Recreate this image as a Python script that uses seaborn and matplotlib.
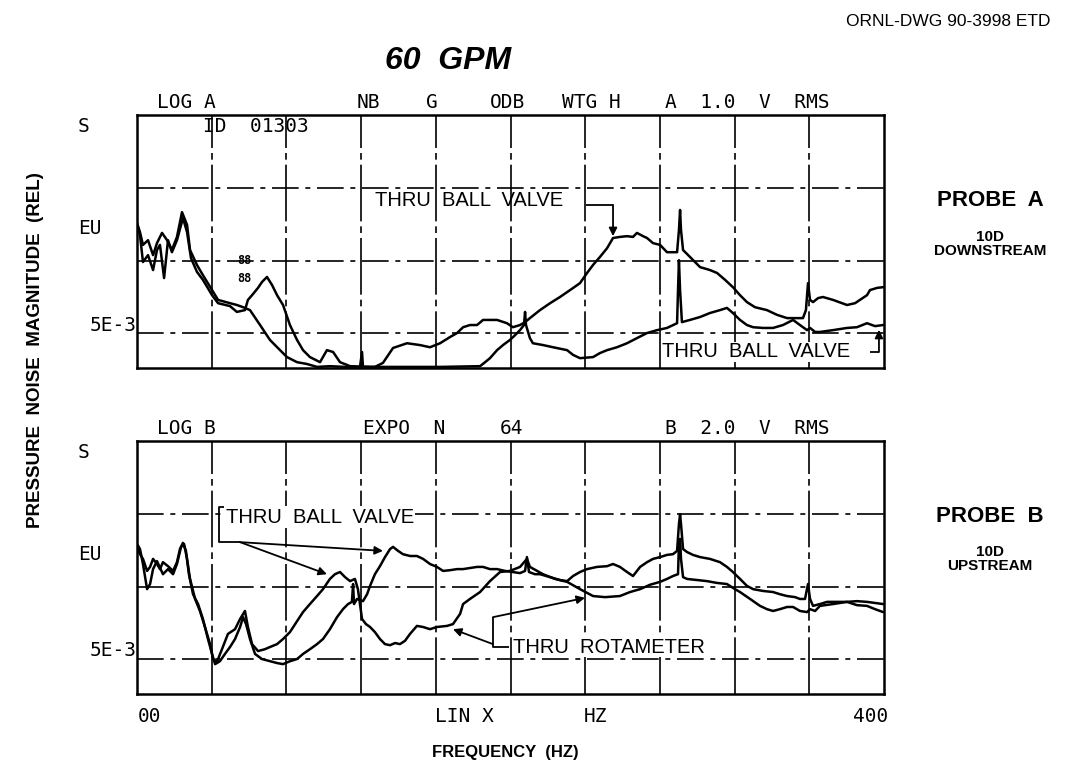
import numpy as np
import pandas as pd
import matplotlib
matplotlib.use("Agg")
import matplotlib.pyplot as plt
import seaborn as sns

# ---------------------------------------------------------------------------
# Spectra: frequency in Hz, level in dB re 1 EU (log magnitude display)
# ---------------------------------------------------------------------------
# Probe A (10D downstream) - trace with broad hump near 265 Hz
pa_hump_hz = [0, 1.6, 3.2, 5.9, 8.6, 10.7, 13.4, 16.1, 18.7, 21.4, 24.1, 26.8, 28.4, 32.1,
              35.3, 40.2, 43.4, 49.8, 53.5, 56.8, 60.5, 65.9, 71.2, 76.6, 80.3, 85.7, 91.0,
              96.4, 103.3, 111.4, 119.4, 120.5, 121.0, 127.4, 131.7, 137.1, 144.6, 151.5,
              156.9, 162.3, 167.6, 171.4, 174.6, 178.3, 182.1, 185.3, 192.8, 198.1, 201.3,
              205.1, 207.8, 210.4, 215.8, 221.2, 226.5, 231.9, 237.2, 241.0, 244.2, 247.9,
              251.7, 254.9, 258.6, 262.4, 265.6, 267.7, 271.0, 273.1, 276.3, 280.1, 283.8,
              289.2, 290.2, 290.8, 291.3, 292.4, 296.1, 301.5, 306.8, 310.6, 314.9, 319.1,
              322.9, 326.6, 330.9, 337.3, 342.7, 348.1, 356.6, 358.2, 359.3, 360.4, 362.0,
              364.7, 367.3, 372.7, 380.2, 384.5, 387.1, 390.9, 392.5, 396.3, 399.5]
pa_hump_db = [-15.7, -18.2, -21.7, -20.4, -24.5, -21.2, -18.4, -20.4, -23.1, -19.5, -12.7,
              -16.2, -23.1, -27.2, -30.0, -34.1, -36.8, -37.7, -38.2, -38.8, -39.6, -43.7,
              -47.8, -50.6, -52.5, -53.9, -54.4, -55.2, -55.0, -55.2, -55.2, -51.1, -55.2,
              -55.2, -54.1, -50.0, -48.7, -49.2, -49.8, -48.7, -47.0, -45.9, -44.3, -43.7,
              -43.7, -42.3, -42.3, -43.2, -44.3, -43.7, -42.9, -41.8, -39.6, -37.7, -36.0,
              -34.1, -32.2, -29.4, -27.2, -25.0, -22.6, -19.8, -19.5, -19.3, -19.5, -18.4,
              -19.3, -19.8, -21.2, -21.7, -23.7, -23.7, -17.6, -12.1, -17.6, -23.1, -25.0,
              -27.8, -28.6, -29.4, -31.3, -33.3, -35.5, -37.4, -38.8, -39.6, -40.9, -41.8,
              -41.8, -39.6, -32.2, -36.8, -37.4, -36.3, -36.0, -36.8, -38.2, -37.7, -36.8,
              -35.5, -34.1, -33.5, -33.3]

# Probe A - lower trace
pa_low_hz = [0, 1.6, 3.2, 5.9, 8.6, 10.7, 12.3, 14.5, 16.6, 18.7, 21.4, 24.6, 26.8, 28.9,
             32.1, 35.3, 40.2, 43.4, 49.8, 53.5, 57.8, 59.4, 61.6, 64.8, 66.9, 69.6, 72.3,
             75.0, 78.2, 81.9, 85.7, 88.9, 92.6, 98.0, 101.7, 105.0, 108.7, 114.1, 124.8,
             140.8, 162.3, 183.7, 186.4, 189.0, 192.8, 196.0, 199.7, 202.4, 205.1, 207.2,
             207.8, 208.3, 210.4, 212.0, 217.4, 222.8, 230.3, 233.5, 237.2, 244.2, 247.9,
             251.7, 257.0, 262.4, 267.7, 273.1, 278.5, 283.8, 289.2, 289.7, 290.2, 290.8,
             291.8, 296.1, 301.5, 306.8, 312.2, 315.9, 319.1, 322.9, 326.6, 329.9, 335.2,
             340.6, 345.9, 351.3, 355.0, 358.8, 360.4, 363.1, 365.7, 372.7, 380.2, 385.5,
             390.9, 395.2, 399.5]
pa_low_db = [-15.7, -19.0, -26.4, -24.5, -28.6, -23.1, -21.7, -30.8, -20.4, -23.7, -20.4,
             -14.3, -18.2, -25.3, -29.1, -31.3, -35.5, -37.7, -38.5, -40.1, -39.6, -36.8,
             -35.5, -33.5, -31.9, -30.5, -32.7, -35.5, -38.2, -43.7, -47.8, -50.6, -52.5,
             -53.9, -50.6, -51.1, -53.9, -55.0, -55.2, -55.2, -55.2, -55.0, -53.9, -52.8,
             -50.6, -49.2, -47.8, -46.5, -45.1, -43.7, -40.1, -43.7, -47.3, -48.7, -49.2,
             -49.8, -50.6, -51.9, -52.8, -52.5, -51.4, -50.6, -49.8, -48.7, -47.3, -45.9,
             -45.1, -44.5, -43.2, -34.1, -25.9, -34.1, -42.9, -42.3, -41.5, -40.4, -39.6,
             -39.0, -40.4, -42.3, -43.7, -44.3, -44.5, -44.5, -43.7, -42.3, -43.7, -45.1,
             -44.5, -45.6, -45.6, -45.1, -44.5, -44.3, -43.2, -44.0, -43.7]

# Probe B (10D upstream) - trace falling after 120 Hz
pb_one_hz = [0, 1.6, 3.2, 5.4, 7.0, 8.6, 10.7, 13.9, 16.6, 19.3, 21.4, 23.6, 25.2, 26.8,
             28.4, 31.1, 33.7, 36.4, 39.1, 40.7, 42.8, 45.5, 48.7, 52.5, 55.2, 57.8, 59.4,
             61.6, 64.8, 68.5, 71.2, 75.0, 78.2, 81.9, 85.7, 88.9, 92.6, 96.4, 99.6, 103.3,
             106.0, 108.7, 111.4, 114.1, 116.7, 118.3, 119.4, 120.5, 122.6, 124.8, 127.4,
             130.1, 132.8, 135.5, 138.2, 140.8, 143.5, 146.2, 149.9, 153.2, 156.9, 160.6,
             166.0, 169.2, 173.0, 174.6, 178.3, 183.7, 189.0, 194.4, 199.7, 205.1, 208.8,
             210.4, 217.4, 223.8, 230.3, 237.2, 244.2, 250.6, 258.6, 264.0, 269.4, 274.7,
             280.1, 283.8, 287.0, 289.7, 290.2, 290.8, 291.3, 292.4, 294.5, 299.9, 305.2,
             310.6, 315.9, 320.2, 322.9, 328.3, 333.6, 337.3, 340.6, 344.3, 348.1, 351.3,
             355.0, 358.8, 360.4, 363.1, 365.7, 372.7, 380.2, 385.5, 390.9, 395.2, 399.5]
pb_one_db = [-14.3, -15.7, -19.8, -26.7, -25.3, -21.2, -19.0, -22.6, -21.2, -22.6, -19.8,
             -15.1, -14.3, -18.4, -23.9, -29.4, -32.7, -37.1, -41.8, -45.9, -46.7, -43.2,
             -39.0, -37.7, -34.9, -32.7, -37.1, -41.8, -43.7, -43.2, -42.6, -41.8, -40.4,
             -38.5, -35.5, -33.0, -30.8, -28.6, -26.7, -23.9, -22.6, -22.0, -23.4, -24.5,
             -23.9, -26.7, -30.8, -34.9, -36.3, -37.1, -38.5, -40.4, -41.8, -42.1, -41.5,
             -41.8, -40.9, -39.0, -36.8, -37.1, -37.7, -37.1, -36.8, -36.3, -33.5, -30.8,
             -29.4, -27.5, -24.5, -22.0, -21.7, -20.6, -18.4, -20.6, -22.6, -23.9, -24.7,
             -26.7, -28.6, -28.9, -28.6, -27.5, -26.7, -25.5, -24.7, -23.9, -23.1, -22.6,
             -14.3, -12.9, -18.4, -23.4, -23.9, -24.2, -24.5, -25.0, -25.3, -26.7, -27.5,
             -29.4, -31.3, -32.2, -32.7, -32.2, -31.6, -31.6, -32.7, -33.0, -32.2, -32.7,
             -31.3, -30.8, -30.2, -31.1, -31.3, -32.2, -33.0]

# Probe B - trace rising to 137 Hz
pb_two_hz = [0, 1.6, 3.2, 5.4, 7.0, 8.6, 10.7, 12.3, 13.9, 16.6, 19.3, 21.4, 23.0, 24.6,
             26.2, 27.8, 30.0, 32.7, 35.3, 38.0, 40.2, 41.8, 44.4, 47.1, 49.8, 52.5, 55.2,
             56.8, 58.4, 60.5, 63.2, 66.9, 71.2, 75.0, 78.2, 81.9, 85.7, 88.9, 92.6, 96.4,
             99.6, 103.3, 107.1, 110.3, 113.0, 115.1, 115.7, 116.2, 117.8, 121.0, 123.2,
             124.8, 127.4, 130.1, 132.8, 135.5, 137.1, 139.8, 142.4, 146.2, 149.9, 153.2,
             156.9, 160.6, 163.9, 167.6, 171.4, 174.6, 178.3, 182.1, 185.3, 189.0, 192.8,
             197.1, 201.3, 205.1, 207.8, 208.8, 209.9, 213.1, 215.8, 221.2, 226.5, 230.3,
             233.5, 237.2, 241.0, 246.3, 251.7, 254.9, 258.6, 262.4, 265.6, 269.4, 273.1,
             276.3, 280.1, 283.8, 287.0, 289.2, 290.2, 290.8, 291.3, 292.4, 294.5, 297.7,
             301.5, 306.8, 312.2, 315.9, 319.1, 322.9, 326.6, 329.9, 335.2, 340.6, 344.3,
             348.1, 352.4, 355.0, 357.7, 359.3, 360.4, 362.0, 365.7, 369.5, 372.7, 380.2,
             385.5, 390.9, 395.2, 399.5]
pb_two_db = [-15.1, -17.1, -18.4, -21.7, -20.6, -18.4, -19.8, -21.2, -19.3, -20.4, -21.7,
             -19.3, -15.7, -14.0, -16.2, -22.6, -28.1, -30.8, -34.9, -40.4, -44.5, -47.3,
             -46.5, -44.5, -42.6, -40.4, -37.1, -34.4, -36.3, -40.4, -44.5, -45.9, -46.5,
             -47.0, -47.3, -46.5, -45.9, -44.5, -43.2, -41.8, -40.4, -37.7, -34.4, -32.2,
             -30.8, -30.2, -25.3, -30.8, -29.4, -30.0, -28.1, -25.8, -22.6, -20.4, -17.9,
             -15.7, -15.1, -16.2, -17.1, -17.6, -17.6, -18.4, -19.8, -20.6, -21.7, -21.5,
             -21.2, -21.2, -20.9, -20.6, -20.6, -21.2, -21.2, -21.7, -22.0, -22.3, -21.7,
             -17.9, -22.0, -22.6, -22.6, -23.4, -24.2, -24.5, -23.1, -22.0, -21.2, -20.6,
             -20.4, -19.8, -20.6, -22.0, -23.1, -20.6, -19.3, -18.4, -17.9, -17.3, -17.1,
             -16.2, -8.8, -6.1, -8.8, -15.7, -16.5, -17.3, -17.9, -18.4, -19.3, -20.6, -22.0,
             -23.9, -25.8, -26.7, -27.2, -27.5, -28.1, -28.6, -28.9, -29.4, -29.4, -25.3,
             -29.4, -31.3, -30.8, -30.2, -30.2, -30.2, -30.0, -30.2, -30.5, -30.8]

# Display scale of the analyzer: 0-400 Hz linear, log magnitude 5 EU full scale
span_hz = (0, 400)
full_scale = 5.0
floor_db = -55.5
freq_grid = [40, 80, 120, 160, 200, 240, 280, 320, 360]
mag_grid = [0.5, 0.05, 0.005]


def mag(db):
    return 10 ** (np.asarray(db, dtype=float) / 20.0)


def frame(hz, db):
    return pd.DataFrame({"hz": hz, "mag": mag(db)})


sns.set_theme(style="white")
plt.rcParams["font.family"] = ["DejaVu Sans"]
plt.rcParams["text.color"] = "black"

W, H = 1072, 779
fig = plt.figure(figsize=(W / 100, H / 100), dpi=100)
fig.patch.set_facecolor("white")


def fx(x):
    return x / W


def fy(y):
    return 1 - y / H


ax_a = fig.add_axes([fx(137), fy(368), fx(884) - fx(137), fy(115) - fy(368)])
ax_b = fig.add_axes([fx(137), fy(694), fx(884) - fx(137), fy(441) - fy(694)])

grid_x_style = (0, (34, 3, 4, 3))
grid_y_style = (0, (16, 4, 3, 4))

for ax in (ax_a, ax_b):
    ax.set_facecolor("white")
    ax.set_yscale("log")
    ax.set_xlim(*span_hz)
    ax.set_ylim(mag(floor_db), full_scale)
    ax.set_xticks(freq_grid)
    ax.set_yticks(mag_grid)
    ax.yaxis.set_minor_locator(matplotlib.ticker.NullLocator())
    ax.tick_params(length=0, labelbottom=False, labelleft=False)
    ax.set_axisbelow(True)
    ax.grid(True, axis="x", color="black", lw=1.2, linestyle=grid_x_style)
    ax.grid(True, axis="y", color="black", lw=1.2, linestyle=grid_y_style)
    for sp in ax.spines.values():
        sp.set_visible(True)
        sp.set_color("black")
        sp.set_linewidth(1.8)

trace_kw = dict(color="black", lw=1.8, sort=False, estimator=None, legend=False)
sns.lineplot(data=frame(pa_hump_hz, pa_hump_db), x="hz", y="mag", ax=ax_a, **trace_kw)
sns.lineplot(data=frame(pa_low_hz, pa_low_db), x="hz", y="mag", ax=ax_a, **trace_kw)
sns.lineplot(data=frame(pb_one_hz, pb_one_db), x="hz", y="mag", ax=ax_b, **trace_kw)
sns.lineplot(data=frame(pb_two_hz, pb_two_db), x="hz", y="mag", ax=ax_b, **trace_kw)
for ax in (ax_a, ax_b):
    ax.set_xlabel("")
    ax.set_ylabel("")

mono = "DejaVu Sans Mono"
hdr = dict(fontsize=14, family=mono, va="center", ha="left", color="black")

# analyzer header lines
for txt, x in [("LOG A", 157), ("NB", 357), ("G", 426), ("ODB", 490),
               ("WTG H", 562), ("A  1.0  V  RMS", 665)]:
    fig.text(fx(x), fy(102), txt, **hdr)
for txt, x in [("LOG B", 157), ("EXPO  N", 363), ("64", 500), ("B  2.0  V  RMS", 665)]:
    fig.text(fx(x), fy(428), txt, **hdr)
fig.text(fx(203), fy(127), "ID  01303", **hdr)

# level annotations at left
for y0 in (0, 326):
    fig.text(fx(78), fy(127 + y0), "S", **hdr)
    fig.text(fx(78), fy(228 + y0), "EU", **hdr)
    fig.text(fx(137), fy(325 + y0), "5E-3", **{**hdr, "ha": "right"})

# frequency axis annotations
fig.text(fx(138), fy(716), "00", **hdr)
fig.text(fx(435), fy(716), "LIN X", **hdr)
fig.text(fx(584), fy(716), "HZ", **hdr)
fig.text(fx(888), fy(716), "400", **{**hdr, "ha": "right"})

# titles and side labels
sans = "Liberation Sans"
fig.text(fx(448), fy(61), "60  GPM", fontsize=23, family=sans, weight="bold",
         style="italic", ha="center", va="center", color="black")
fig.text(fx(1050), fy(22), "ORNL-DWG 90-3998 ETD", fontsize=12.5, family=sans,
         ha="right", va="center", color="black")
fig.text(fx(36), fy(350), "PRESSURE  NOISE  MAGNITUDE  (REL)", fontsize=13.5, family=sans,
         weight="bold", rotation=90, ha="center", va="center", color="black")
fig.text(fx(505), fy(752), "FREQUENCY  (HZ)", fontsize=12, family=sans, weight="bold",
         ha="center", va="center", color="black")
side = dict(family=sans, weight="bold", ha="center", va="center", color="black")
fig.text(fx(990), fy(200), "PROBE  A", fontsize=16, **side)
fig.text(fx(990), fy(237), "10D", fontsize=11, **side)
fig.text(fx(990), fy(251), "DOWNSTREAM", fontsize=11, **side)
fig.text(fx(990), fy(517), "PROBE  B", fontsize=16, **side)
fig.text(fx(990), fy(552), "10D", fontsize=11, **side)
fig.text(fx(990), fy(566), "UPSTREAM", fontsize=11, **side)

# callouts (positions in Hz / dB)
lab = dict(fontsize=14.5, family=sans, va="center", ha="left", color="black")
arrow = dict(arrowstyle="-|>", color="black", lw=1.3, mutation_scale=12,
             shrinkA=0, shrinkB=0)
line_kw = dict(color="black", lw=1.3, solid_capstyle="butt")
white_box = dict(facecolor="white", edgecolor="none", pad=0.5)

# probe A, upper callout
ax_a.text(127.4, mag(-9.6), "THRU  BALL  VALVE", **lab)
ax_a.plot([240.5, 254.9], mag([-10.7, -10.7]), **line_kw)
ax_a.annotate("", xy=(254.9, mag(-19.3)), xytext=(254.9, mag(-10.7)), arrowprops=arrow)

# probe A, lower callout
ax_a.text(281.0, mag(-51.1), "THRU  BALL  VALVE", bbox=white_box, **lab)
ax_a.plot([392.5, 397.3], mag([-51.1, -51.1]), **line_kw)
ax_a.annotate("", xy=(397.3, mag(-45.0)), xytext=(397.3, mag(-51.1)), arrowprops=arrow)

# dotted marker glyphs on the probe A display
ax_a.text(57.3, mag(-26.0), "88", fontsize=8.5, family=mono, weight="bold",
          ha="center", va="center")
ax_a.text(57.3, mag(-31.0), "88", fontsize=8.5, family=mono, weight="bold",
          ha="center", va="center")

# probe B, ball-valve callout
ax_b.text(47.6, mag(-6.9), "THRU  BALL  VALVE", bbox=dict(white_box, pad=1.0), **lab)
ax_b.plot([47.1, 43.9, 43.9, 55.2], mag([-4.1, -4.1, -13.8, -13.8]), **line_kw)
ax_b.annotate("", xy=(101.7, mag(-22.6)), xytext=(55.2, mag(-13.8)), arrowprops=arrow)
ax_b.annotate("", xy=(131.7, mag(-16.2)), xytext=(55.2, mag(-13.8)), arrowprops=arrow)

# probe B, rotameter callout
ax_b.text(201.3, mag(-42.6), "THRU  ROTAMETER", bbox=white_box, **lab)
ax_b.plot([199.2, 190.6, 190.6], mag([-42.6, -42.6, -34.4]), **line_kw)
ax_b.annotate("", xy=(239.9, mag(-29.1)), xytext=(190.6, mag(-34.4)), arrowprops=arrow)
ax_b.annotate("", xy=(169.2, mag(-37.7)), xytext=(190.6, mag(-41.8)), arrowprops=arrow)

fig.savefig("out.png", dpi=100, facecolor="white")
